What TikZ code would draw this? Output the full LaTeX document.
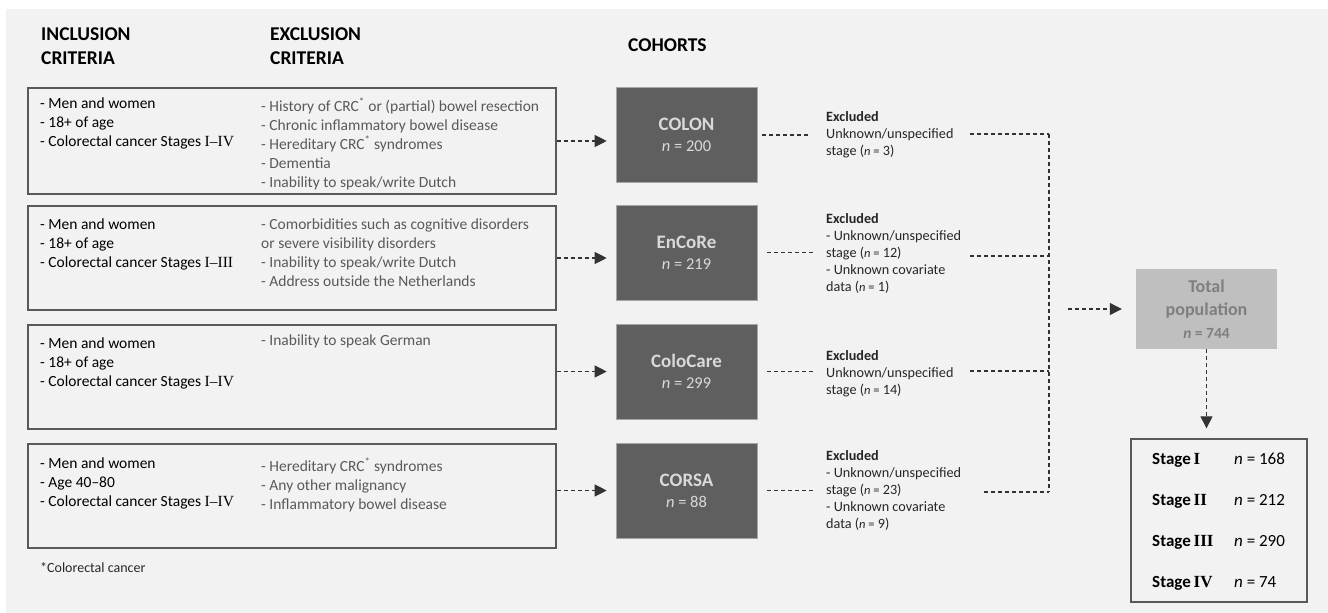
\documentclass[tikz,border=0pt]{standalone}
\usepackage{fontspec}
\setmainfont{Carlito}
\newfontfamily\tnr{Liberation Serif}
\usetikzlibrary{arrows.meta,calc}
\definecolor{bgc}{HTML}{F2F2F2}
\definecolor{boxline}{HTML}{595959}
\definecolor{exclc}{HTML}{595959}
\definecolor{cohfill}{HTML}{5F5F5F}
\definecolor{cohtext}{HTML}{D9D9D9}
\definecolor{totfill}{HTML}{BFBFBF}
\definecolor{tottext}{HTML}{7F7F7F}
\definecolor{dashc}{HTML}{333333}
\newcommand{\rn}[1]{{\tnr #1}}
\newcommand{\nq}{{\fontsize{12.5}{17}\selectfont\itshape n\/ \upshape=}}
\tikzset{
  inbox/.style={draw=boxline, line width=1.3pt, minimum width=528pt, inner sep=0pt},
  itext/.style={anchor=north west, inner sep=0pt, align=left, font=\fontsize{15.5}{19}\selectfont, text=black},
  etext/.style={itext, text=exclc},
  head/.style={anchor=north west, inner sep=0pt, align=left, font=\fontsize{19.5}{24}\selectfont\bfseries, text=black},
  coh/.style={fill=cohfill, draw=gray!70, line width=0.6pt, minimum width=141pt, minimum height=95pt, inner sep=0pt, align=center, text=cohtext, font=\fontsize{16.5}{21}\selectfont},
  extext/.style={anchor=north west, inner sep=0pt, align=left, font=\fontsize{14.2}{17}\selectfont, text=black!85},
  dline/.style={draw=dashc, line width=1.1pt, dash pattern=on 4pt off 3pt},
  arr/.style={dline, -{Triangle[length=12pt,width=12pt]}, shorten >=9pt},
  strow/.style={anchor=base west, inner sep=0pt, font=\fontsize{17}{20}\selectfont, text=black},
}
\begin{document}
\begin{tikzpicture}[x=1pt,y=-1pt]
\useasboundingbox (0,0) rectangle (1328,613);
\fill[bgc] (6,9) rectangle (1328,613);

% headers
\node[head] (h1) at (41,28) {INCLUSION\\CRITERIA};
\node[head] (h2) at (270,28) {EXCLUSION\\CRITERIA};
\node[head] (h3) at (628,39) {COHORTS};

% inclusion/exclusion boxes
\node[inbox, minimum height=106pt] (b1) at (292,141) {};
\node[inbox, minimum height=104pt] (b2) at (292,258) {};
\node[inbox, minimum height=104pt] (b3) at (292,377) {};
\node[inbox, minimum height=104pt] (b4) at (292,496) {};

\node[itext] (i1) at (40,98) {- Men and women\\- 18+ of age\\- Colorectal cancer Stages \rn{I–IV}};
\node[etext] (x1) at (261,98) {- History of CRC\textsuperscript{*} or (partial) bowel resection\\- Chronic inflammatory bowel disease\\- Hereditary CRC\textsuperscript{*} syndromes\\- Dementia\\- Inability to speak/write Dutch};

\node[itext] (i2) at (40,219) {- Men and women\\- 18+ of age\\- Colorectal cancer Stages \rn{I–III}};
\node[etext] (x2) at (261,219) {- Comorbidities such as cognitive disorders\\or severe visibility disorders\\- Inability to speak/write Dutch\\- Address outside the Netherlands};

\node[itext] (i3) at (40,338) {- Men and women\\- 18+ of age\\- Colorectal cancer Stages \rn{I–IV}};
\node[etext] (x3) at (261,335) {- Inability to speak German};

\node[itext] (i4) at (40,458) {- Men and women\\- Age 40–80\\- Colorectal cancer Stages \rn{I–IV}};
\node[etext] (x4) at (261,458) {- Hereditary CRC\textsuperscript{*} syndromes\\- Any other malignancy\\- Inflammatory bowel disease};

\node[anchor=base west, inner sep=0pt, font=\fontsize{14}{17}\selectfont, text=black!85] (fn) at (40,572) {*Colorectal cancer};

% cohorts
\node[coh] (c1) at (686.5,135) {{\fontsize{19}{21}\selectfont\bfseries COLON}\\{\itshape n} = 200};
\node[coh] (c2) at (686.5,252.5) {{\fontsize{19}{21}\selectfont\bfseries EnCoRe}\\{\itshape n} = 219};
\node[coh] (c3) at (686.5,371.5) {{\fontsize{19}{21}\selectfont\bfseries ColoCare}\\{\itshape n} = 299};
\node[coh] (c4) at (686.5,490.5) {{\fontsize{19}{21}\selectfont\bfseries CORSA}\\{\itshape n} = 88};

\draw[arr] (b1.east) -- (b1.east -| c1.west);
\draw[arr] (b2.east) -- (b2.east -| c2.west);
\draw[arr] (b3.east |- c3.west) -- (c3.west);
\draw[arr] (b4.east |- c4.west) -- (c4.west);

% excluded
\node[extext] (e1) at (826,111.5) {\textbf{Excluded}\\Unknown/unspecified\\stage (\nq{} 3)};
\node[extext] (e2) at (826,213.5) {\textbf{Excluded}\\- Unknown/unspecified\\stage (\nq{} 12)\\- Unknown covariate\\data (\nq{} 1)};
\node[extext] (e3) at (826,350.5) {\textbf{Excluded}\\Unknown/unspecified\\stage (\nq{} 14)};
\node[extext] (e4) at (826,450.5) {\textbf{Excluded}\\- Unknown/unspecified\\stage (\nq{} 23)\\- Unknown covariate\\data (\nq{} 9)};

\draw[dline, shorten <=5pt, shorten >=18pt] (c1.east) -- (c1.east -| e1.west);
\draw[dline, shorten <=10pt, shorten >=13pt] (c2.east) -- (c2.east -| e2.west);
\draw[dline, shorten <=10pt, shorten >=13pt] (c3.east) -- (c3.east -| e3.west);
\draw[dline, shorten <=10pt, shorten >=13pt] (c4.east) -- (c4.east -| e4.west);

\coordinate (r1) at (970,134);
\coordinate (r2) at (970,256);
\coordinate (r3) at (970,371);
\coordinate (r4) at (984,492);
\coordinate (j1) at (1049,134);
\coordinate (j2) at (1049,256);
\coordinate (j3) at (1049,371);
\coordinate (j4) at (1049,492);
\draw[dline] (r1) -- (j1);
\draw[dline] (r2) -- (j2);
\draw[dline] (r3) -- (j3);
\draw[dline] (r4) -- (j4);
\draw[dline] (j1) -- (j4);

% total
\node[fill=totfill, minimum width=141pt, minimum height=80pt, inner sep=0pt, align=center, text=tottext, font=\fontsize{18}{23}\selectfont\bfseries] (tot) at (1206.5,309) {Total\\population\\{\fontsize{15.5}{20}\selectfont\itshape n\upshape{} = 744}};
\coordinate (jin) at (1068,309);
\draw[arr, shorten >=14pt] (jin) -- (tot.west);

% stages
\node[draw=boxline, line width=1.3pt, minimum width=176pt, minimum height=163pt, inner sep=0pt] (st) at (1219,520.5) {};
\draw[arr, shorten >=10pt] (tot.south) -- (tot.south |- st.north);

\node[strow] (s1) at (1152,464) {\textbf{Stage}\,{\tnr\bfseries I}};
\node[strow] (s2) at (1152,505) {\textbf{Stage}\,{\tnr\bfseries II}};
\node[strow] (s3) at (1152,546) {\textbf{Stage}\,{\tnr\bfseries III}};
\node[strow] (s4) at (1152,587) {\textbf{Stage}\,{\tnr\bfseries IV}};
\node[strow] (n1) at (1234,464) {{\itshape n} = 168};
\node[strow] (n2) at (1234,505) {{\itshape n} = 212};
\node[strow] (n3) at (1234,546) {{\itshape n} = 290};
\node[strow] (n4) at (1234,587) {{\itshape n} = 74};
\end{tikzpicture}
\end{document}
